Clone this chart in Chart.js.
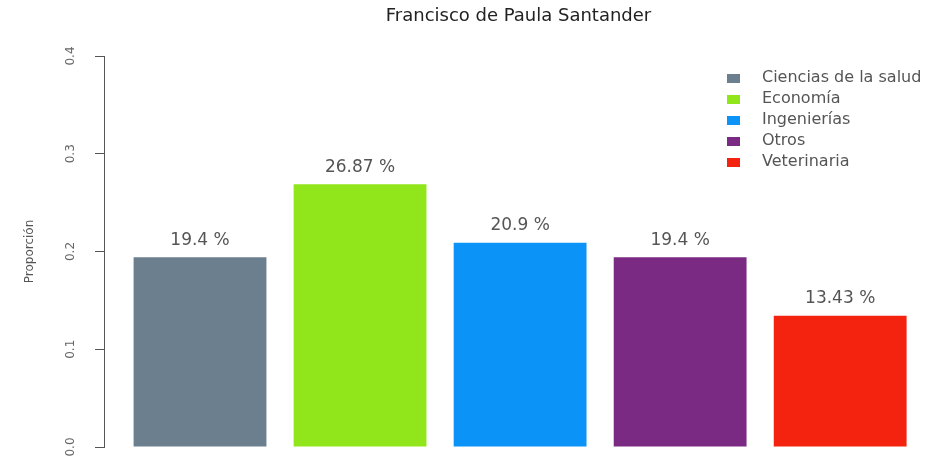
<!DOCTYPE html>
<html>
<head>
<meta charset="utf-8">
<script src="https://cdn.jsdelivr.net/npm/chart.js@4/dist/chart.umd.min.js"></script>
<style>html,body{margin:0;padding:0;background:#fff;}</style>
</head>
<body>
<canvas id="GraficoSantander" width="933" height="463"></canvas>
<script>
// datos
const categorias = ['Ciencias de la salud', 'Economía', 'Ingenierías', 'Otros', 'Veterinaria'];
const proporciones = [0.194, 0.2687, 0.209, 0.194, 0.1343];
const etiquetas = ['19.4 %', '26.87 %', '20.9 %', '19.4 %', '13.43 %'];
const colores = ['#6b7f8e', '#90e51b', '#0b93f7', '#7b2a83', '#f3230f'];
const marcasY = [0, 0.1, 0.2, 0.3, 0.4];

const fuente = '"DejaVu Sans", sans-serif';

// cuadrito de la leyenda (el hueco a la derecha separa el texto)
function cuadrito(color) {
  const c = document.createElement('canvas');
  c.width = 27; c.height = 9;
  const g = c.getContext('2d');
  g.fillStyle = color;
  g.fillRect(0, 0, 13, 9);
  return c;
}

// porcentajes encima de cada barra
const etiquetasBarras = {
  id: 'etiquetasBarras',
  afterDatasetsDraw(chart) {
    const ctx = chart.ctx;
    const meta = chart.getDatasetMeta(0);
    ctx.save();
    ctx.font = '17px ' + fuente;
    ctx.fillStyle = '#555';
    ctx.textAlign = 'center';
    ctx.textBaseline = 'middle';
    meta.data.forEach((barra, i) => ctx.fillText(etiquetas[i], barra.x, barra.y - 17));
    ctx.restore();
  }
};

// mueve la leyenda a la esquina superior derecha del área
const moverLeyenda = {
  id: 'moverLeyenda',
  afterLayout(chart) {
    const lg = chart.legend;
    lg.left = 722; lg.top = 65;
    lg.right = 933; lg.bottom = 190;
  }
};

const GraficoSantander = new Chart(document.getElementById('GraficoSantander'), {
  type: 'bar',
  data: {
    datasets: [{
      data: proporciones.map((v, i) => ({ x: i, y: v })),
      backgroundColor: colores,
      borderWidth: 0,
      barPercentage: 0.83,
      categoryPercentage: 1
    }]
  },
  options: {
    responsive: false,
    animation: false,
    devicePixelRatio: 1,
    layout: { padding: { left: 0, right: 0, top: 0, bottom: 16 } },
    scales: {
      x: {
        type: 'linear',
        offset: false,
        min: -0.6,
        max: 4.58,
        display: false,
        afterBuildTicks: s => { s.ticks = categorias.map((c, i) => ({ value: i })); }
      },
      y: {
        min: 0,
        max: 0.4,
        afterBuildTicks: s => { s.ticks = marcasY.map(v => ({ value: v })); },
        afterFit: s => { s.width = 104; s.paddingTop = 0; s.paddingBottom = 0; },
        border: { display: true, color: '#555', width: 1 },
        grid: { drawOnChartArea: false, drawTicks: true, tickLength: 9, color: '#555', lineWidth: 1 },
        ticks: {
          minRotation: 90,
          maxRotation: 90,
          crossAlign: 'center',
          padding: 15,
          color: '#666',
          font: { family: fuente, size: 12 },
          callback: v => v.toFixed(1)
        },
        title: {
          display: true,
          text: 'Proporción',
          color: '#555',
          font: { family: fuente, size: 12 },
          padding: { top: 23, bottom: 0 }
        }
      }
    },
    plugins: {
      title: {
        display: true,
        text: 'Francisco de Paula Santander',
        color: '#222',
        fullSize: false,
        font: { family: fuente, size: 18, weight: 'normal' },
        padding: { top: 6, bottom: 28.4 }
      },
      legend: {
        position: 'chartArea',
        align: 'start',
        labels: {
          usePointStyle: true,
          pointStyleWidth: 27,
          boxHeight: 9,
          padding: 5,
          color: '#555',
          font: { family: fuente, size: 16 },
          generateLabels: () => categorias.map((t, i) => ({
            text: t,
            fillStyle: colores[i],
            strokeStyle: colores[i],
            fontColor: '#555',
            lineWidth: 0,
            pointStyle: cuadrito(colores[i]),
            hidden: false,
            index: i
          }))
        }
      },
      tooltip: { enabled: false }
    }
  },
  plugins: [etiquetasBarras, moverLeyenda]
});
</script>
</body>
</html>
